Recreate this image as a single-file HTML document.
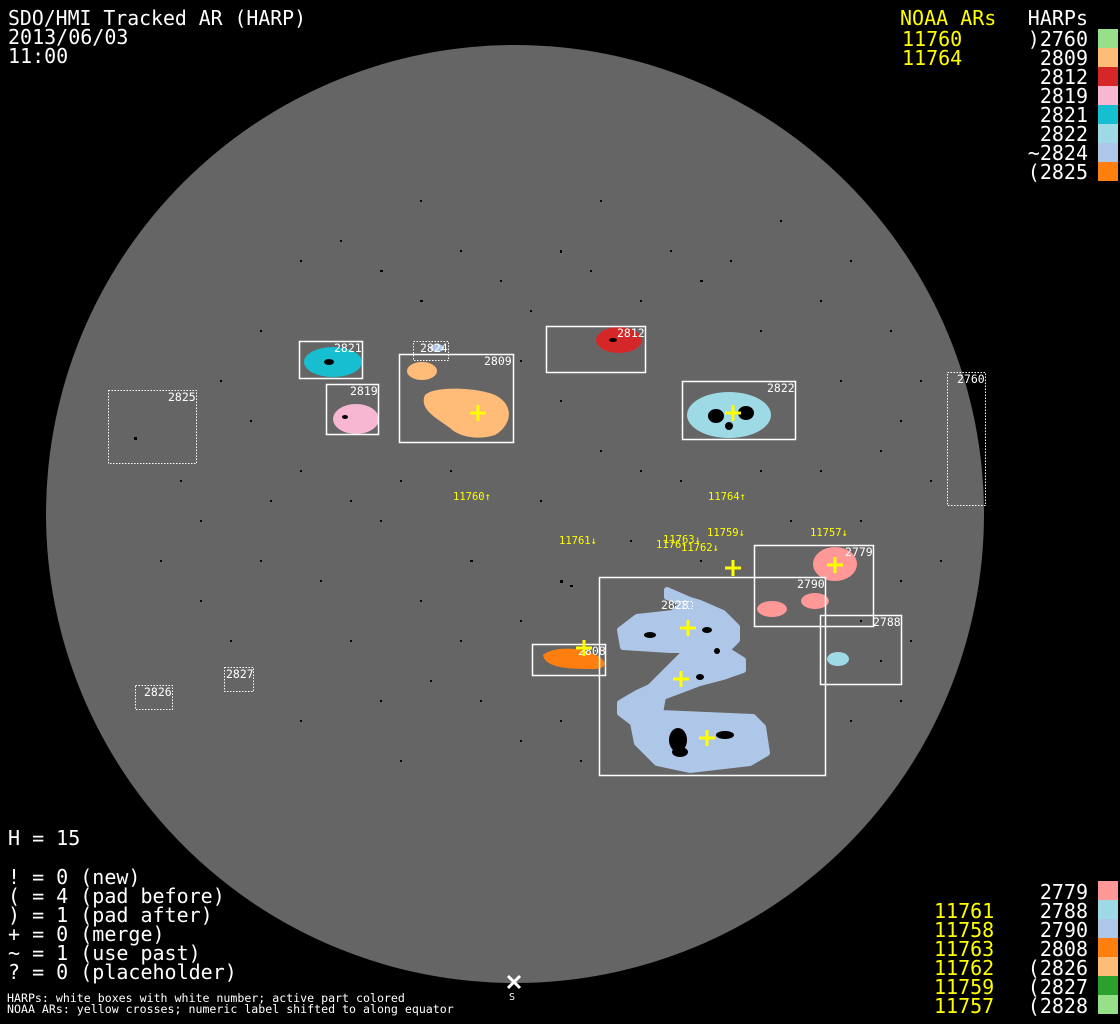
<!DOCTYPE html>
<html><head><meta charset="utf-8"><style>
html,body{margin:0;padding:0;background:#000;width:1120px;height:1024px;overflow:hidden}
svg{display:block}
text{font-family:"DejaVu Sans Mono","Liberation Mono",monospace}
</style></head><body>
<svg width="1120" height="1024" viewBox="0 0 1120 1024" xmlns="http://www.w3.org/2000/svg">
<rect width="1120" height="1024" fill="#000"/>
<circle cx="515" cy="514" r="469" fill="#656565"/>

<!-- specks -->
<g fill="#000">
<rect x="300" y="260" width="2" height="2"/><rect x="420" y="300" width="3" height="2"/><rect x="500" y="280" width="2" height="2"/><rect x="560" y="250" width="2" height="3"/>
<rect x="640" y="300" width="2" height="2"/><rect x="700" y="280" width="3" height="2"/><rect x="760" y="330" width="2" height="2"/><rect x="820" y="300" width="2" height="2"/>
<rect x="250" y="420" width="2" height="2"/><rect x="300" y="470" width="2" height="2"/><rect x="380" y="520" width="2" height="2"/><rect x="470" y="560" width="3" height="2"/>
<rect x="560" y="580" width="3" height="3"/><rect x="520" y="620" width="2" height="2"/><rect x="480" y="700" width="2" height="2"/><rect x="400" y="760" width="2" height="2"/>
<rect x="880" y="450" width="2" height="2"/><rect x="860" y="520" width="2" height="2"/><rect x="900" y="580" width="2" height="2"/><rect x="850" y="720" width="2" height="2"/>
<rect x="200" y="600" width="2" height="2"/><rect x="230" y="640" width="2" height="2"/><rect x="350" y="640" width="2" height="2"/><rect x="640" y="470" width="2" height="2"/>
<rect x="134" y="437" width="3" height="3"/><rect x="420" y="200" width="2" height="2"/><rect x="600" y="200" width="2" height="2"/><rect x="780" y="220" width="2" height="2"/>
<rect x="340" y="240" width="2" height="2"/><rect x="380" y="270" width="3" height="2"/><rect x="460" y="250" width="2" height="2"/><rect x="530" y="310" width="2" height="2"/>
<rect x="590" y="270" width="2" height="2"/><rect x="670" y="250" width="2" height="2"/><rect x="730" y="260" width="2" height="2"/><rect x="850" y="260" width="2" height="2"/>
<rect x="890" y="330" width="2" height="2"/><rect x="840" y="380" width="2" height="2"/><rect x="900" y="420" width="2" height="2"/><rect x="820" y="470" width="2" height="2"/>
<rect x="760" y="470" width="2" height="2"/><rect x="680" y="480" width="2" height="2"/><rect x="600" y="450" width="2" height="2"/><rect x="560" y="400" width="2" height="2"/>
<rect x="520" y="360" width="2" height="2"/><rect x="450" y="470" width="2" height="2"/><rect x="400" y="480" width="2" height="2"/><rect x="350" y="500" width="2" height="2"/>
<rect x="270" y="500" width="2" height="2"/><rect x="200" y="520" width="2" height="2"/><rect x="160" y="560" width="2" height="2"/><rect x="260" y="560" width="2" height="2"/>
<rect x="320" y="580" width="2" height="2"/><rect x="420" y="600" width="2" height="2"/><rect x="460" y="640" width="2" height="2"/><rect x="430" y="680" width="2" height="2"/>
<rect x="380" y="700" width="2" height="2"/><rect x="300" y="720" width="2" height="2"/><rect x="520" y="740" width="2" height="2"/><rect x="560" y="720" width="2" height="2"/>
<rect x="580" y="760" width="2" height="2"/><rect x="860" y="620" width="2" height="2"/><rect x="880" y="660" width="2" height="2"/><rect x="900" y="700" width="2" height="2"/>
<rect x="790" y="520" width="2" height="2"/><rect x="700" y="560" width="2" height="2"/><rect x="630" y="540" width="2" height="2"/><rect x="540" y="500" width="2" height="2"/>
<rect x="220" y="380" width="2" height="2"/><rect x="260" y="330" width="2" height="2"/><rect x="180" y="480" width="2" height="2"/><rect x="570" y="585" width="3" height="2"/>
<rect x="930" y="480" width="2" height="2"/><rect x="920" y="380" width="2" height="2"/><rect x="940" y="560" width="2" height="2"/><rect x="910" y="640" width="2" height="2"/>
</g>

<!-- blobs -->
<ellipse cx="333" cy="362" rx="29" ry="15" fill="#17becf"/>
<ellipse cx="356" cy="419" rx="23" ry="15" fill="#f7b6d2"/>
<ellipse cx="437" cy="348" rx="7" ry="4" fill="#aec7e8"/>
<ellipse cx="422" cy="371" rx="15" ry="9" fill="#ffbb78"/>
<path d="M425,395 C435,385 480,388 495,395 C515,405 512,425 495,435 C480,440 460,438 450,428 C440,420 418,410 425,395 Z" fill="#ffbb78"/>
<ellipse cx="619" cy="340" rx="23" ry="13" fill="#d62728"/>
<ellipse cx="729" cy="415" rx="42" ry="23" fill="#9edae5"/>
<ellipse cx="835" cy="564" rx="22" ry="17" fill="#ff9896"/>
<ellipse cx="772" cy="609" rx="15" ry="8" fill="#ff9896"/>
<ellipse cx="815" cy="601" rx="14" ry="8" fill="#ff9896"/>
<ellipse cx="838" cy="659" rx="11" ry="7" fill="#9edae5"/>
<path d="M543,655 C555,645 585,648 598,656 C610,664 605,670 590,669 C570,669 545,668 543,655 Z" fill="#ff7f0e"/>
<polygon points="667,590 690,600 700,603 723,613 737,627 737,640 727,650 743,660 743,670 723,677 700,683 663,697 660,713 753,717 763,727 767,753 750,763 690,770 657,763 637,743 633,723 620,713 620,703 637,693 650,687 667,670 687,650 670,650 623,647 620,630 637,617 673,613 683,603 667,597" fill="#aec7e8" stroke="#aec7e8" stroke-width="6" stroke-linejoin="round"/>
<g fill="#000">
<ellipse cx="678" cy="740" rx="9" ry="12"/><ellipse cx="680" cy="752" rx="8" ry="5"/><ellipse cx="725" cy="735" rx="9" ry="4"/><ellipse cx="707" cy="630" rx="5" ry="3"/>
<ellipse cx="650" cy="635" rx="6" ry="3"/><ellipse cx="700" cy="677" rx="4" ry="3"/><ellipse cx="717" cy="651" rx="3" ry="3"/>
<ellipse cx="716" cy="416" rx="8" ry="7"/><ellipse cx="746" cy="413" rx="8" ry="7"/><ellipse cx="729" cy="426" rx="4" ry="4"/>
<ellipse cx="329" cy="362" rx="5" ry="3"/><ellipse cx="345" cy="417" rx="3" ry="2"/><ellipse cx="613" cy="340" rx="4" ry="2"/>
</g>

<!-- boxes -->
<g fill="none" stroke="#fff" stroke-width="1.5">
<rect x="299.5" y="341.5" width="63" height="37"/>
<rect x="326.5" y="384.5" width="52" height="50"/>
<rect x="399.5" y="354.5" width="114" height="88"/>
<rect x="546.5" y="326.5" width="99" height="46"/>
<rect x="682.5" y="381.5" width="113" height="58"/>
<rect x="754.5" y="545.5" width="119" height="81"/>
<rect x="599.5" y="577.5" width="226" height="198"/>
<rect x="820.5" y="615.5" width="81" height="69"/>
<rect x="532.5" y="644.5" width="73" height="31"/>
</g>
<g fill="none" stroke="#fff" stroke-width="1" stroke-dasharray="1.5 1.5">
<rect x="413.5" y="341.5" width="35" height="19"/>
<rect x="108.5" y="390.5" width="88" height="73"/>
<rect x="947.5" y="372.5" width="38" height="133"/>
<rect x="135.5" y="685.5" width="37" height="24"/>
<rect x="224.5" y="667.5" width="29" height="24"/>
<rect x="675.5" y="601.5" width="17" height="7"/>
</g>

<!-- box labels -->
<g fill="#fff" font-size="11.5">
<text x="334" y="352">2821</text>
<text x="350" y="395">2819</text>
<text x="420" y="352">2824</text>
<text x="484" y="365">2809</text>
<text x="168" y="401">2825</text>
<text x="617" y="337">2812</text>
<text x="767" y="392">2822</text>
<text x="957" y="383">2760</text>
<text x="845" y="556">2779</text>
<text x="797" y="588">2790</text>
<text x="661" y="609">2828</text>
<text x="873" y="626">2788</text>
<text x="578" y="655">2808</text>
<text x="144" y="696">2826</text>
<text x="226" y="678">2827</text>
</g>

<!-- crosses -->
<g stroke="#ff0" stroke-width="3">
<path d="M470,413h16M478,405v16"/>
<path d="M725,413h16M733,405v16"/>
<path d="M827,565h16M835,557v16"/>
<path d="M725,568h16M733,560v16"/>
<path d="M680,628h16M688,620v16"/>
<path d="M673,679h16M681,671v16"/>
<path d="M699,738h16M707,730v16"/>
<path d="M576,648h16M584,640v16"/>
</g>

<!-- yellow labels -->
<g fill="#ff0" font-size="10.5">
<text x="453" y="500">11760↑</text>
<text x="708" y="500">11764↑</text>
<text x="559" y="544">11761↓</text>
<text x="656" y="548">1176-</text>
<text x="663" y="543">11763↓</text>
<text x="681" y="551">11762↓</text>
<text x="707" y="536">11759↓</text>
<text x="810" y="536">11757↓</text>
</g>

<!-- top-left -->
<g fill="#fff" font-size="20">
<text x="8" y="25" textLength="298" lengthAdjust="spacingAndGlyphs">SDO/HMI Tracked AR (HARP)</text>
<text x="8" y="44">2013/06/03</text>
<text x="8" y="63">11:00</text>
</g>
<!-- top-right legend -->
<g font-size="20">
<text x="900" y="25" fill="#ff0">NOAA ARs</text>
<text x="902" y="46" fill="#ff0">11760</text>
<text x="902" y="65" fill="#ff0">11764</text>
<g fill="#fff" text-anchor="end">
<text x="1088" y="25">HARPs</text>
<text x="1088" y="46">)2760</text>
<text x="1088" y="65">2809</text>
<text x="1088" y="84">2812</text>
<text x="1088" y="103">2819</text>
<text x="1088" y="122">2821</text>
<text x="1088" y="141">2822</text>
<text x="1088" y="160">~2824</text>
<text x="1088" y="179">(2825</text>
</g>
</g>
<rect x="1098" y="29" width="20" height="19" fill="#98df8a"/>
<rect x="1098" y="48" width="20" height="19" fill="#ffbb78"/>
<rect x="1098" y="67" width="20" height="19" fill="#d62728"/>
<rect x="1098" y="86" width="20" height="19" fill="#f7b6d2"/>
<rect x="1098" y="105" width="20" height="19" fill="#17becf"/>
<rect x="1098" y="124" width="20" height="19" fill="#9edae5"/>
<rect x="1098" y="143" width="20" height="19" fill="#aec7e8"/>
<rect x="1098" y="162" width="20" height="19" fill="#ff7f0e"/>

<!-- bottom-left -->
<g fill="#fff" font-size="20">
<text x="8" y="845">H = 15</text>
<text x="8" y="884">! = 0 (new)</text>
<text x="8" y="903">( = 4 (pad before)</text>
<text x="8" y="922">) = 1 (pad after)</text>
<text x="8" y="941">+ = 0 (merge)</text>
<text x="8" y="960">~ = 1 (use past)</text>
<text x="8" y="979">? = 0 (placeholder)</text>
</g>
<g fill="#fff" font-size="11.6">
<text x="7" y="1002">HARPs: white boxes with white number; active part colored</text>
<text x="7" y="1013">NOAA ARs: yellow crosses; numeric label shifted to along equator</text>
<text x="509" y="1000" font-size="10">S</text>
</g>
<path d="M508,976l12,12M520,976l-12,12" stroke="#fff" stroke-width="3"/>

<!-- bottom-right legend -->
<g font-size="20">
<g fill="#ff0">
<text x="934" y="918">11761</text>
<text x="934" y="937">11758</text>
<text x="934" y="956">11763</text>
<text x="934" y="975">11762</text>
<text x="934" y="994">11759</text>
<text x="934" y="1013">11757</text>
</g>
<g fill="#fff" text-anchor="end">
<text x="1088" y="899">2779</text>
<text x="1088" y="918">2788</text>
<text x="1088" y="937">2790</text>
<text x="1088" y="956">2808</text>
<text x="1088" y="975">(2826</text>
<text x="1088" y="994">(2827</text>
<text x="1088" y="1013">(2828</text>
</g>
</g>
<rect x="1098" y="881" width="20" height="19" fill="#ff9896"/>
<rect x="1098" y="900" width="20" height="19" fill="#9edae5"/>
<rect x="1098" y="919" width="20" height="19" fill="#aec7e8"/>
<rect x="1098" y="938" width="20" height="19" fill="#ff7f0e"/>
<rect x="1098" y="957" width="20" height="19" fill="#ffbb78"/>
<rect x="1098" y="976" width="20" height="19" fill="#2ca02c"/>
<rect x="1098" y="995" width="20" height="19" fill="#98df8a"/>
</svg>
</body></html>
